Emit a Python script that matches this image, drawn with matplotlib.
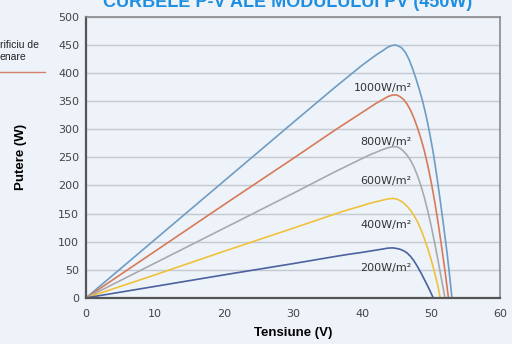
import matplotlib.pyplot as plt

# P-V curves of a 450 W module at several irradiance levels
v_1000 = [0, 10, 20, 30, 36, 38, 40, 41, 42, 43, 43.7, 44.3, 44.8, 45.3, 45.8, 46.3, 46.8, 47.3, 47.8,
          48.3, 48.8, 49.3, 49.8, 50.3, 50.8, 51.3, 51.8, 52.3, 52.7, 53]
p_1000 = [0, 104, 208, 312, 374, 394, 414, 423, 432, 440, 446, 449, 450, 448, 444, 436, 424, 408, 390,
          370, 348, 322, 292, 258, 218, 174, 128, 80, 36, 0]

v_800 = [0, 10, 20, 30, 36, 38, 40, 41, 42, 43, 43.7, 44.4, 45, 45.5, 46, 46.5, 47, 47.5, 48, 48.5,
         49, 49.5, 50, 50.5, 51, 51.5, 52, 52.5]
p_800 = [0, 83, 166, 248, 298, 314, 330, 338, 346, 353, 358, 361, 361, 358, 353, 345, 334, 320, 303, 284,
         262, 236, 206, 172, 134, 92, 48, 0]

v_600 = [0, 10, 20, 30, 36, 38, 40, 41, 42, 43, 43.7, 44.4, 45, 45.5, 46, 46.5, 47, 47.5, 48, 48.5,
         49, 49.5, 50, 50.5, 51, 51.5, 52]
p_600 = [0, 62, 124, 186, 224, 236, 248, 254, 259, 264, 267, 269, 269, 266, 261, 254, 245, 233, 218, 200,
         179, 155, 128, 98, 66, 33, 0]

v_400 = [0, 10, 20, 30, 36, 38, 40, 41, 42, 43, 43.7, 44.4, 45, 45.5, 46, 46.5, 47, 47.5, 48, 48.5,
         49, 49.5, 50, 50.5, 51, 51.3]
p_400 = [0, 41, 83, 124, 149, 157, 164, 168, 171, 174, 176, 177, 176, 173, 169, 163, 156, 147, 136, 122,
         106, 88, 68, 45, 20, 0]

v_200 = [0, 10, 20, 30, 36, 38, 40, 41, 42, 43, 43.7, 44.4, 45, 45.5, 46, 46.5, 47, 47.5, 48, 48.5,
         49, 49.5, 50, 50.3]
p_200 = [0, 20.5, 41, 61, 73.5, 77.5, 81, 83, 85, 87, 88.5, 89, 88, 86.5, 84, 80, 74, 66, 56, 45,
         33, 21, 8, 0]

curve_labels = ["1000W/m²", "800W/m²", "600W/m²", "400W/m²", "200W/m²"]
label_power = [373, 277, 208, 130, 53]

x_ticks = [0, 10, 20, 30, 40, 50, 60]
y_ticks = [0, 50, 100, 150, 200, 250, 300, 350, 400, 450, 500]

bg = "#eef2f9"
colors = ["#6d9dc5", "#d77a5a", "#a9a9b0", "#f0c23c", "#4a62a0"]

fig = plt.figure(figsize=(5.12, 3.44), dpi=100, facecolor=bg)
ax = fig.add_axes([0.168, 0.134, 0.809, 0.817], facecolor=bg)

series = [(v_1000, p_1000), (v_800, p_800), (v_600, p_600), (v_400, p_400), (v_200, p_200)]
for (v, p), c in zip(series, colors):
    ax.plot(v, p, color=c, lw=1.2, solid_joinstyle="round")

for lab, y in zip(curve_labels, label_power):
    ax.text(47.2, y, lab, ha="right", va="center", fontsize=8, color="#333333")

ax.set_xlim(0, 60)
ax.set_ylim(0, 500)
ax.set_xticks(x_ticks)
ax.set_yticks(y_ticks)
ax.tick_params(axis="x", length=0, pad=8, labelsize=8, labelcolor="#444444")
ax.tick_params(axis="y", length=0, pad=5, labelsize=8, labelcolor="#444444")
ax.yaxis.grid(True, color="#c4c8d0", lw=1)
ax.set_axisbelow(True)

for side in ["left", "bottom"]:
    ax.spines[side].set_color("#555555")
    ax.spines[side].set_linewidth(1.6)
for side in ["top", "right"]:
    ax.spines[side].set_color("#8a8a8a")
    ax.spines[side].set_linewidth(1.2)

ax.set_xlabel("Tensiune (V)", fontsize=9.5, fontweight="bold", family="Liberation Sans", labelpad=6)
ax.set_ylabel("Putere (W)", fontsize=9.5, fontweight="bold", family="Liberation Sans", labelpad=22)

# title sits partly above the top edge
fig.text(0.5625, 0.980, "CURBELE P-V ALE MODULULUI PV (450W)", ha="center", va="baseline",
         fontsize=13, fontweight="bold", color="#1e8fe0", family="Liberation Sans")

# clipped legend box on the left edge
fig.text(0.0, 1 - 45 / 344, "rificiu de", ha="left", va="center", fontsize=7.5,
         family="Liberation Sans", color="#222222")
fig.text(0.0, 1 - 57 / 344, "enare", ha="left", va="center", fontsize=7.5,
         family="Liberation Sans", color="#222222")
fig.add_artist(plt.Line2D([0, 45 / 512], [1 - 72 / 344, 1 - 72 / 344], color="#d4826b", lw=1))

fig.savefig("out.png", dpi=100, facecolor=bg)
